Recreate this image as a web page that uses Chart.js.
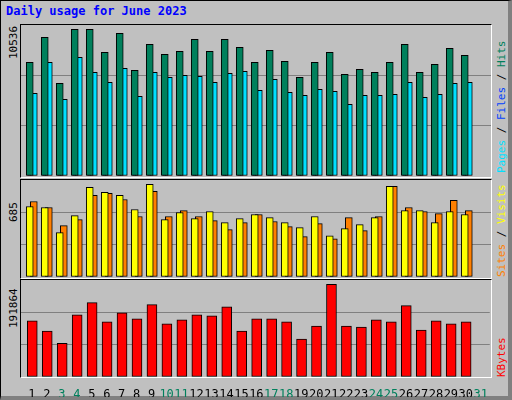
<!DOCTYPE html>
<html>
<head>
<meta charset="utf-8">
<script src="https://cdn.jsdelivr.net/npm/chart.js@4"></script>
<style>
  body { margin: 0; }
  #frame { position: relative; background: #c0c0c0;
    border: 1px solid #000; border-right: 4px solid #808080; border-bottom: 4px solid #808080; box-sizing: content-box; width: 507px; height: 395px; }
  .panel { position: absolute; left: 19px; width: 470px; border-top: 1px solid #000; border-left: 1px solid #000;
    border-right: 1px solid #fff; border-bottom: 1px solid #fff; }
  canvas { position: absolute; }
  .lbl { position: absolute; font: 11px "DejaVu Sans Mono", monospace; transform: rotate(-90deg); transform-origin: left top; white-space: nowrap; }
  #title { position: absolute; left: 5px; top: 3px; font: bold 12px "DejaVu Sans Mono", monospace; color: #0000ff; }
</style>
</head>
<body>
<div id="frame">
  <div id="title">Daily usage for June 2023</div>
  <div class="panel" style="top:23px;height:152px"></div>
  <div class="panel" style="top:178px;height:98px"></div>
  <div class="panel" style="top:278px;height:97px"></div>
  <canvas id="topChart" width="470" height="151" style="left:20px;top:24px"></canvas>
  <canvas id="midChart" width="470" height="97" style="left:20px;top:179px"></canvas>
  <canvas id="botChart" width="470" height="117" style="left:20px;top:279px"></canvas>
  <div class="lbl" style="left:6px;top:58px;color:#000">10536</div>
  <div class="lbl" style="left:6px;top:221px;color:#000">685</div>
  <div class="lbl" style="left:6px;top:327px;color:#000">191864</div>
  <div class="lbl" style="left:494px;top:172px"><span style="color:#00e0ff">Pages</span> / <span style="color:#0040ff">Files</span> / <span style="color:#00805c">Hits</span></div>
  <div class="lbl" style="left:494px;top:276px"><span style="color:#ff8000">Sites</span> / <span style="color:#ffff00">Visits</span></div>
  <div class="lbl" style="left:494px;top:376px;color:#ff0000">KBytes</div>
</div>
<script>
const days = Array.from({length: 31}, (_, i) => i + 1);
const weekend = [3, 4, 10, 11, 17, 18, 24, 25, 31];
const hits = [8164, 9960, 6655, 10536, 10536, 8882, 10246, 7589, 9456, 8738, 8953, 9815, 8953, 9815, 9241,
  8164, 9025, 8235, 7086, 8164, 8882, 7302, 7661, 7445, 8164, 9456, 7445, 8020, 9169, 8666];
const pages = [5937, 8164, 5506, 8523, 7445, 6727, 7733, 5722, 7445, 7086, 7230, 7158, 6727, 7374, 7517,
  6153, 6943, 6009, 5793, 6224, 6081, 5147, 5793, 5793, 5865, 6727, 5650, 5865, 6655, 6727];
const files = [2346, 2059, 1053, 1987, 2993, 1987, 2418, 2202, 2059, 1915, 2059, 2202, 2059, 2274, 1628,
  1987, 2059, 1987, 1341, 1772, 2562, 1987, 1772, 1843, 2346, 2202, 1843, 1987, 1987, 1484];
const visits = [521, 514, 328, 454, 663, 625, 603, 499, 685, 424, 477, 432, 484, 402, 432,
  462, 439, 402, 365, 447, 305, 357, 387, 439, 670, 491, 491, 402, 484, 462];
const sites = [558, 514, 380, 424, 603, 618, 573, 447, 633, 447, 491, 447, 417, 350, 402,
  462, 410, 372, 298, 395, 283, 439, 343, 447, 670, 514, 484, 469, 566, 491];
const kbytes = [116233, 95227, 70020, 128837, 154044, 114133, 133038, 120434, 149843, 109931, 118334, 128837, 126736, 145642, 95227,
  120434, 120434, 114133, 78422, 105730, 191864, 105730, 103630, 118334, 114133, 147742, 97328, 116233, 109931, 114133];

Chart.defaults.font.family = '"DejaVu Sans Mono", monospace';

function bars(values, shift, color, width) {
  return {
    data: values.map((v, i) => ({ x: i + 1 + shift, y: v })),
    backgroundColor: color, borderColor: '#000', borderWidth: 1,
    barThickness: width, grouped: false, borderSkipped: false
  };
}

function panel(id, datasets, yMax, yStep, showDays) {
  return new Chart(document.getElementById(id), {
    type: 'bar',
    data: { datasets: datasets },
    options: {
      responsive: false, animation: false, devicePixelRatio: 1,
      layout: { padding: 0 },
      plugins: { legend: { display: false }, tooltip: { enabled: false } },
      scales: {
        x: {
          type: 'linear', min: 0.2667, max: 31.6, display: showDays, offset: false,
          grid: { display: false }, border: { display: false },
          afterBuildTicks: axis => { axis.ticks = days.map(v => ({ value: v })); },
          afterFit: axis => { if (showDays) axis.height = 20; },
          ticks: {
            padding: 3, maxRotation: 0, autoSkip: false, font: { size: 12 },
            color: ctx => weekend.includes(ctx.tick.value) ? '#00805c' : '#000'
          }
        },
        y: {
          display: true, min: 0, max: yMax,
          ticks: { display: false, stepSize: yStep },
          grid: { color: ctx => ctx.tick.value > 0 && ctx.tick.value < yMax ? '#808080' : 'transparent', drawTicks: false },
          border: { display: false },
          afterFit: axis => { axis.width = 0; }
        }
      }
    }
  });
}

panel('topChart', [
  bars(hits, -0.15, '#00805c', 7),
  bars(pages, 0.12, '#00e0ff', 7),
  bars(files, -0.2, '#0040ff', 3)
], 10845, 3555, false);

panel('midChart', [
  bars(visits, -0.15, '#ffff00', 7),
  bars(sites, 0.12, '#ff8000', 7)
], 717, 248, false);

panel('botChart', [
  bars(kbytes, 0.02, '#ff0000', 10)
], 201000, 69340, true);
</script>
</body>
</html>
